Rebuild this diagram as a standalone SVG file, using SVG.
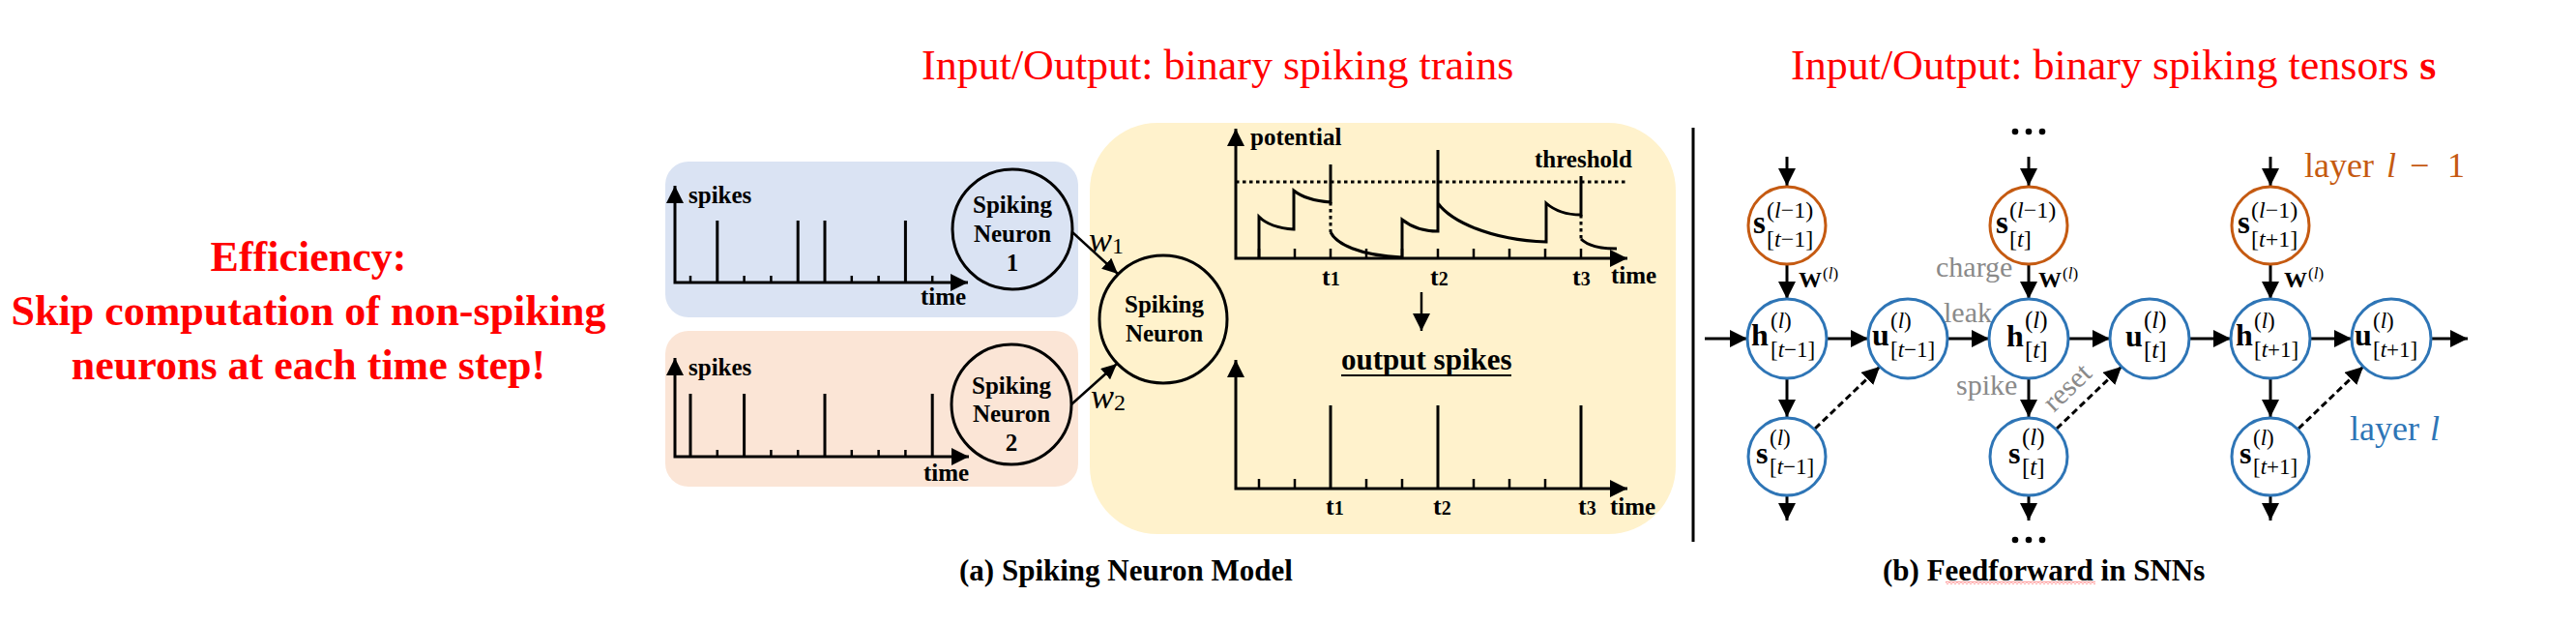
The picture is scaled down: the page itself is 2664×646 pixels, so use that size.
<svg xmlns="http://www.w3.org/2000/svg" width="2664" height="646" viewBox="0 0 2664 646">
<defs>
<style>
.ser{font-family:"Liberation Serif","Times New Roman",serif}
.red{fill:#FF0000}
.title{font-size:44px}
.eff{font-size:44px;font-weight:bold;text-anchor:middle}
.lb{font-weight:bold;font-size:25px}
.tl{font-weight:bold;font-size:26px}
.td{font-weight:bold;font-size:20px}
.cap{font-weight:bold;font-size:31px}
.gray{fill:#8A8A8A;font-size:30px}
.ax{stroke:#000;stroke-width:3;fill:none;stroke-linejoin:miter;marker-start:url(#ah);marker-end:url(#ah)}
.sp{stroke:#000;stroke-width:3;fill:none}
.tk{stroke:#000;stroke-width:2.5;fill:none}
.dot{stroke:#000;stroke-width:3;fill:none;stroke-dasharray:3.5 3.5}
.nc{fill:none;stroke:#000;stroke-width:3}
.bl{fill:#fff;stroke:#2E75B6;stroke-width:3}
.orc{fill:#fff;stroke:#C55A11;stroke-width:3}
.cn{stroke:#000;stroke-width:3;fill:none;marker-end:url(#ah)}
.cs{stroke:#000;stroke-width:2.5;fill:none;marker-end:url(#ahs)}
.dash{stroke-dasharray:7 4}
.mb{font-weight:bold;font-size:32px}
.mbo{font-weight:bold;font-size:33px}
.ms{font-size:23px}
.mt{font-size:25px}
.mo{font-size:24px}
.it{font-style:italic}
.wl{font-weight:bold;font-size:24px}
.wsup{font-size:17px}
.lay{font-size:36px}
</style>
<marker id="ah" viewBox="0 0 18 18" refX="18" refY="9" markerWidth="18" markerHeight="18" markerUnits="userSpaceOnUse" orient="auto-start-reverse"><path d="M0,0 L18,9 L0,18 z" fill="#000"/></marker>
<marker id="ahs" viewBox="0 0 16 15" refX="16" refY="7.5" markerWidth="16" markerHeight="15" markerUnits="userSpaceOnUse" orient="auto"><path d="M0,0 L16,7.5 L0,15 z" fill="#000"/></marker>
<pattern id="wavy" x="0" y="0" width="4" height="3" patternUnits="userSpaceOnUse"><path d="M0,2.5 L2,0.5 L4,2.5" stroke="#FF0000" stroke-width="0.8" fill="none"/></pattern>
</defs>
<rect width="2664" height="646" fill="#fff"/>

<g id="efficiency-text" class="ser red eff">
<text x="319" y="280">Efficiency:</text>
<text x="319" y="336">Skip computation of non-spiking</text>
<text x="319" y="392">neurons at each time step!</text>
</g>

<g id="titles" class="ser red title">
<text x="953" y="82">Input/Output: binary spiking trains</text>
<text x="1852" y="82">Input/Output: binary spiking tensors <tspan font-weight="bold">s</tspan></text>
</g>

<g id="input-train-1">
<rect x="688" y="167" width="427" height="161" rx="24" fill="#DAE3F3"/>
<path class="ax" d="M698,192 V292 H1001"/>
<path class="sp" d="M741.8,292V228 M825.2,292V228 M853,292V228 M936.4,292V228"/>
<path class="tk" d="M714,292V285 M769.6,292V285 M797.4,292V285 M880.8,292V285 M908.6,292V285 M964.2,292V285"/>
<text class="ser lb" x="712" y="210">spikes</text>
<text class="ser lb" x="952" y="315">time</text>
</g>
<g id="neuron-1">
<circle class="nc" cx="1047" cy="237" r="62"/>
<text class="ser lb" text-anchor="middle" x="1047" y="220">Spiking</text>
<text class="ser lb" text-anchor="middle" x="1047" y="250">Neuron</text>
<text class="ser lb" text-anchor="middle" x="1047" y="280">1</text>
</g>

<g id="input-train-2">
<rect x="688" y="342" width="427" height="161" rx="24" fill="#FBE5D6"/>
<path class="ax" d="M698,370 V472 H1002"/>
<path class="sp" d="M714,472V407 M769.6,472V407 M853,472V407 M964.2,472V407"/>
<path class="tk" d="M741.8,472V465 M797.4,472V465 M825.2,472V465 M880.8,472V465 M908.6,472V465 M936.4,472V465"/>
<text class="ser lb" x="712" y="388">spikes</text>
<text class="ser lb" x="955" y="497">time</text>
</g>
<g id="neuron-2">
<circle class="nc" cx="1046" cy="418" r="62"/>
<text class="ser lb" text-anchor="middle" x="1046" y="407">Spiking</text>
<text class="ser lb" text-anchor="middle" x="1046" y="436">Neuron</text>
<text class="ser lb" text-anchor="middle" x="1046" y="466">2</text>
</g>

<g id="neuron-model">
<rect x="1127" y="127" width="606" height="425" rx="70" fill="#FFF2CC"/>
</g>
<g id="spiking-neuron">
<circle class="nc" cx="1203" cy="330" r="66"/>
<text class="ser lb" text-anchor="middle" x="1204" y="323">Spiking</text>
<text class="ser lb" text-anchor="middle" x="1204" y="353">Neuron</text>
</g>

<g id="potential-plot">
<path class="ax" d="M1278,133 V267 H1683"/>
<path class="dot" d="M1278,188 H1683"/>
<path class="tk" d="M1302,267V257 M1339,267V257 M1413,267V257 M1450,267V257 M1524,267V257 M1561,267V257 M1598,267V257 M1376,267V257 M1487,267V257 M1635,267V257"/>
<path class="sp" d="M1302,267 V224 C1310,232 1322,236 1338,237 V197 C1348,205 1362,208 1376,209 V170 M1376,240 C1382,252 1405,264 1450,266 V227 C1460,235 1472,239 1487,239 V155 M1487,210 C1500,228 1540,248 1599,250 V210 C1608,218 1620,222 1635,222 V182 M1635,247 C1642,254 1655,257 1672,257"/>
<path class="dot" d="M1376,209 V240 M1635,222 V247"/>
<text class="ser lb" x="1293" y="150">potential</text>
<text class="ser lb" x="1587" y="173">threshold</text>
<text class="ser tl" x="1367" y="295">t<tspan class="td">1</tspan></text>
<text class="ser tl" x="1479" y="295">t<tspan class="td">2</tspan></text>
<text class="ser tl" x="1626" y="295">t<tspan class="td">3</tspan></text>
<text class="ser lb" x="1666" y="293">time</text>
</g>

<g id="output-plot">
<path class="ax" d="M1278,372 V505 H1683"/>
<path class="tk" d="M1302,505V495 M1339,505V495 M1413,505V495 M1450,505V495 M1524,505V495 M1561,505V495 M1598,505V495"/>
<path class="sp" d="M1376,505V419 M1487,505V419 M1635,505V419"/>
<text class="ser" font-weight="bold" font-size="31" x="1387" y="382">output spikes</text>
<line x1="1387" y1="388" x2="1563" y2="388" stroke="#000" stroke-width="2"/>
<text class="ser tl" x="1371" y="532">t<tspan class="td">1</tspan></text>
<text class="ser tl" x="1482" y="532">t<tspan class="td">2</tspan></text>
<text class="ser tl" x="1632" y="532">t<tspan class="td">3</tspan></text>
<text class="ser lb" x="1665" y="532">time</text>
</g>

<g id="connectors-a">
<line class="cs" x1="1109" y1="240" x2="1156" y2="283"/>
<line class="cs" x1="1108" y1="418" x2="1155" y2="376"/>
<line class="cn" x1="1470" y1="302" x2="1470" y2="342" style="stroke-width:2.5"/>
<text class="ser" font-style="italic" font-size="36" x="1126" y="260">w<tspan font-style="normal" font-size="24" dy="2">1</tspan></text>
<text class="ser" font-style="italic" font-size="36" x="1128" y="422">w<tspan font-style="normal" font-size="24" dy="2">2</tspan></text>
</g>

<text class="ser cap" x="992" y="600">(a) Spiking Neuron Model</text>

<line x1="1751" y1="132" x2="1751" y2="560" stroke="#000" stroke-width="3"/>

<g id="connectors-b">
<line class="cn" x1="1848" y1="162" x2="1848" y2="192"/>
<line class="cn" x1="2098" y1="162" x2="2098" y2="192"/>
<line class="cn" x1="2348" y1="162" x2="2348" y2="192"/>
<line class="cn" x1="1848" y1="273" x2="1848" y2="309"/>
<line class="cn" x1="2098" y1="273" x2="2098" y2="309"/>
<line class="cn" x1="2348" y1="273" x2="2348" y2="309"/>
<line class="cn" x1="1763" y1="350" x2="1807" y2="350"/>
<line class="cn" x1="1889" y1="350" x2="1932" y2="350"/>
<line class="cn" x1="2014" y1="350" x2="2057" y2="350"/>
<line class="cn" x1="2139" y1="350" x2="2182" y2="350"/>
<line class="cn" x1="2264" y1="350" x2="2307" y2="350"/>
<line class="cn" x1="2389" y1="350" x2="2432" y2="350"/>
<line class="cn" x1="2514" y1="350" x2="2552" y2="350"/>
<line class="cn" x1="1848" y1="391" x2="1848" y2="431"/>
<line class="cn" x1="2098" y1="391" x2="2098" y2="431"/>
<line class="cn" x1="2348" y1="391" x2="2348" y2="431"/>
<line class="cn" x1="1848" y1="513" x2="1848" y2="538"/>
<line class="cn" x1="2098" y1="513" x2="2098" y2="538"/>
<line class="cn" x1="2348" y1="513" x2="2348" y2="538"/>
<line class="cn dash" x1="1877" y1="443" x2="1944" y2="379"/>
<line class="cn dash" x1="2127" y1="443" x2="2194" y2="379"/>
<line class="cn dash" x1="2377" y1="443" x2="2444" y2="379"/>
<g class="ser wl">
<text x="1860" y="297">W<tspan class="wsup" font-weight="normal" dx="1" dy="-9">(<tspan class="it">l</tspan>)</tspan></text>
<text x="2108" y="297">W<tspan class="wsup" font-weight="normal" dx="1" dy="-9">(<tspan class="it">l</tspan>)</tspan></text>
<text x="2362" y="297">W<tspan class="wsup" font-weight="normal" dx="1" dy="-9">(<tspan class="it">l</tspan>)</tspan></text>
</g>
<g class="ser gray">
<text x="2002" y="286">charge</text>
<text x="2010" y="333">leak</text>
<text x="2023" y="408">spike</text>
<text x="2124" y="427" transform="rotate(-44 2124 427)">reset</text>
</g>
</g>

<g id="dots" fill="#000">
<circle cx="2084" cy="136" r="3.3"/><circle cx="2098" cy="136" r="3.3"/><circle cx="2112" cy="136" r="3.3"/>
<circle cx="2084" cy="558" r="3.3"/><circle cx="2098" cy="558" r="3.3"/><circle cx="2112" cy="558" r="3.3"/>
</g>

<g id="s-prev-t-1" class="ser">
<circle class="orc" cx="1848" cy="233" r="40"/>
<text class="mbo" x="1813" y="241">s</text>
<text class="mo" x="1827" y="225">(<tspan class="it">l</tspan>−1)</text>
<text class="mo" x="1827" y="255">[<tspan class="it">t</tspan>−1]</text>
</g>
<g id="s-prev-t" class="ser">
<circle class="orc" cx="2098" cy="233" r="40"/>
<text class="mbo" x="2064" y="241">s</text>
<text class="mo" x="2078" y="225">(<tspan class="it">l</tspan>−1)</text>
<text class="mo" x="2078" y="255">[<tspan class="it">t</tspan>]</text>
</g>
<g id="s-prev-t+1" class="ser">
<circle class="orc" cx="2348" cy="233" r="40"/>
<text class="mbo" x="2314" y="241">s</text>
<text class="mo" x="2328" y="225">(<tspan class="it">l</tspan>−1)</text>
<text class="mo" x="2328" y="255">[<tspan class="it">t</tspan>+1]</text>
</g>

<g id="h-t-1" class="ser">
<circle class="bl" cx="1848" cy="350" r="41"/>
<text class="mb" x="1811" y="357">h</text>
<text class="ms" x="1831" y="339">(<tspan class="it">l</tspan>)</text>
<text class="ms" x="1831" y="369">[<tspan class="it">t</tspan>−1]</text>
</g>
<g id="u-t-1" class="ser">
<circle class="bl" cx="1973" cy="350" r="41"/>
<text class="mb" x="1936" y="357">u</text>
<text class="ms" x="1955" y="339">(<tspan class="it">l</tspan>)</text>
<text class="ms" x="1955" y="369">[<tspan class="it">t</tspan>−1]</text>
</g>
<g id="h-t" class="ser">
<circle class="bl" cx="2098" cy="350" r="41"/>
<text class="mb" x="2075" y="358">h</text>
<text class="mt" x="2094" y="339">(<tspan class="it">l</tspan>)</text>
<text class="mt" x="2094" y="370">[<tspan class="it">t</tspan>]</text>
</g>
<g id="u-t" class="ser">
<circle class="bl" cx="2223" cy="350" r="41"/>
<text class="mb" x="2198" y="358">u</text>
<text class="mt" x="2217" y="339">(<tspan class="it">l</tspan>)</text>
<text class="mt" x="2217" y="370">[<tspan class="it">t</tspan>]</text>
</g>
<g id="h-t+1" class="ser">
<circle class="bl" cx="2348" cy="350" r="41"/>
<text class="mb" x="2312" y="357">h</text>
<text class="ms" x="2331" y="339">(<tspan class="it">l</tspan>)</text>
<text class="ms" x="2331" y="369">[<tspan class="it">t</tspan>+1]</text>
</g>
<g id="u-t+1" class="ser">
<circle class="bl" cx="2473" cy="350" r="41"/>
<text class="mb" x="2435" y="357">u</text>
<text class="ms" x="2454" y="339">(<tspan class="it">l</tspan>)</text>
<text class="ms" x="2454" y="369">[<tspan class="it">t</tspan>+1]</text>
</g>

<g id="s-t-1" class="ser">
<circle class="bl" cx="1848" cy="472" r="40"/>
<text class="mb" x="1816" y="479">s</text>
<text class="ms" x="1830" y="460">(<tspan class="it">l</tspan>)</text>
<text class="ms" x="1830" y="490">[<tspan class="it">t</tspan>−1]</text>
</g>
<g id="s-t" class="ser">
<circle class="bl" cx="2098" cy="472" r="40"/>
<text class="mb" x="2077" y="479">s</text>
<text class="mt" x="2091" y="460">(<tspan class="it">l</tspan>)</text>
<text class="mt" x="2091" y="491">[<tspan class="it">t</tspan>]</text>
</g>
<g id="s-t+1" class="ser">
<circle class="bl" cx="2348" cy="472" r="40"/>
<text class="mb" x="2316" y="479">s</text>
<text class="ms" x="2330" y="460">(<tspan class="it">l</tspan>)</text>
<text class="ms" x="2330" y="490">[<tspan class="it">t</tspan>+1]</text>
</g>

<g id="layer-labels" class="ser lay">
<text x="2383" y="183" fill="#C55A11">layer <tspan class="it" x="2468">l</tspan><tspan x="2492">−</tspan><tspan x="2531">1</tspan></text>
<text x="2430" y="455" fill="#2E75B6">layer <tspan class="it" x="2513">l</tspan></text>
</g>

<text class="ser cap" x="1947" y="600">(b) Feedforward in SNNs</text>
<rect x="2012" y="601" width="155" height="3" fill="url(#wavy)"/>
</svg>
